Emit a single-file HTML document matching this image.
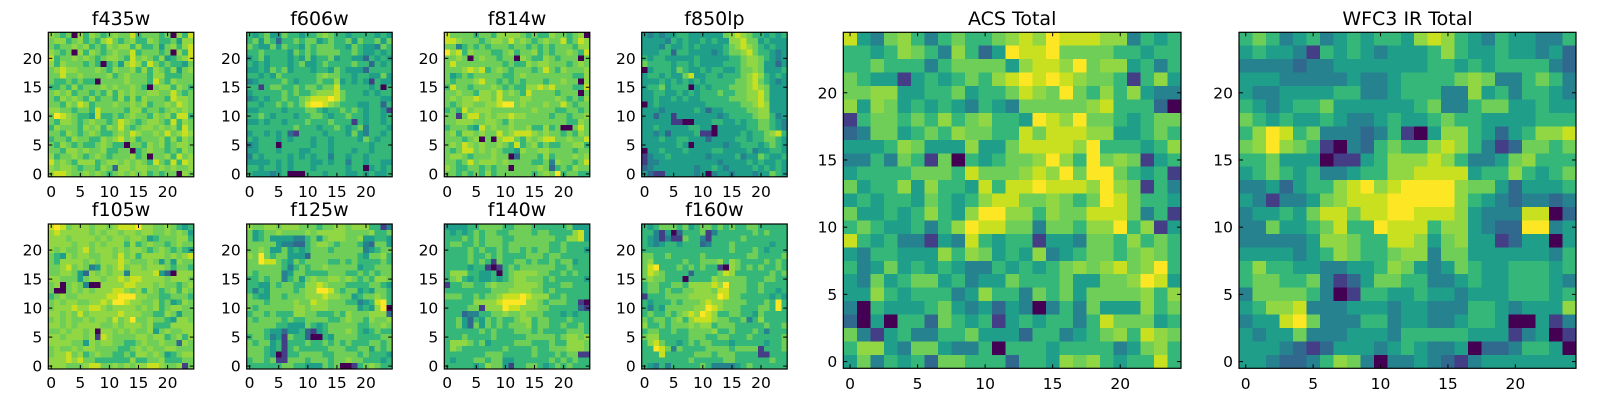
<!DOCTYPE html>
<html><head><meta charset="utf-8"><style>
html,body{margin:0;padding:0;background:#fff;}
svg{display:block;font-family:"DejaVu Sans","Liberation Sans",sans-serif;}
</style></head>
<body>
<svg id="fig" width="1600" height="400" xmlns="http://www.w3.org/2000/svg"></svg>
<script>
const palette=["#440154","#433e85","#31688e","#26828e","#1f9e89","#35b779","#6ece58","#90d743","#c8e020","#fde725"];
const tickValues=[0,5,10,15,20];
const panelTitles=["f435w","f606w","f814w","f850lp","f105w","f125w","f140w","f160w","ACS Total","WFC3 IR Total"];
const f435w=["7656075765676685666560758","6775675657865675576556477","6566767565767757556467578","7656075765676685666560758","8566767656776586765745678","7576665650564787586565546","6787766676576675757657467","6686676666756766657755566","6556565506666766658657666","5565756667676676506775765","6767566565757676677668656","6576765756657575766658776","6657687566676676756676876","7766566586666577566567676","6987655485565676657675885","6577656766568765677658576","5766657675768656776767586","6657656765567687667686787","5665766557678675666757576","6576565567655066576756776","6657767667556605676656576","7566765676566675606675867","8676577756776767658658587","7677656657627767766767667","7887667676567676756566076"];
const f606w=["5456446554556765545555454","5646525565664565564655646","6544646554656665546544365","5565555465656666556544545","4564555454645564554425454","5454555456445655556552545","4454656455545546544425555","5545465555556766554554464","3455556545556557454541544","5515665565665668555554505","4555556565567778655545455","3454556556788898655555544","5545565656899876555445525","4455554555665455656545541","5565455545566545565545545","4454554555655565551545545","5555555565554556545635554","4554545215555455546435545","5455545455545545555465455","3455505555545545555554555","4455545554455545554554555","3545555454545535545545555","4444545455544545535545544","5545545455545555545504545","5444345000555455544545445"];
const f814w=["8666656657777656557665670","8876665677686765676685687","6635656566656656565666577","9785766655675667565667658","6676067665660765576566606","6866666666565576776665676","6667878567656665686576667","6456566666556766666666557","6566678665656566656676607","5866566676565577878666558","6676657768676586666566606","6767787768666776666765657","6567766778996766676686566","5658677766666667666556656","6616886767787766665665667","6677766776576666666665576","5666548676676675575600686","6757767668678887676656576","6665670607886576788667668","6768767667658567565566775","6568867676554766776666566","6776566676602666575666767","6656867776766665563766568","7655665656606666762565766","6656565756666665676956655"];
const f850lp=["4343445544444467876554545","4444354544545447786645444","4443544545444456787654544","4445525544443456678655434","5455444445444445567765434","6555545545444455567764424","0455546544545544566764445","4554544684455455567875454","4445454545455555667865434","4556455504545556667876444","4455445454555655667786444","4454454544555556667786444","0454444444455555566787444","4443444445424455556677444","4424414444444345555677534","4444411004445544545566543","4454444455440444445566543","4434244445110444454556785","4445445544424444554556654","4444445404444434455545654","0445444544445544445344554","1344544444434444534465445","1334444444444344445454454","2344444443445434444545454","4211444443403443444344654"];
const f105w=["8986777677678889776676545","7877777676776776776676764","7776777767677677645666775","7777677676777575676656766","7676678677767677656765654","6547677667768675777767678","6577776767778766676464766","6678676347678677677765665","6677642767677377778420777","7766646776778788777767776","6706763007777887776766567","6006767677788767576567576","5676677777889997766556665","6767766778799877667564576","6777877887677776767567766","7767686777778777665576466","6767667677686796676654776","7767677776676777675557777","6676776707767676674676677","7767776718766667767756757","7777664767766556766766276","6766767766665567676677666","6778675676655657767645677","7778786655555575566755566","7776667886676767788766716"];
const f125w=["7667767776665667767775513","6456676666767777766667556","6456444433564677766744554","6666643322567765666532664","6676446454566656666634566","7696566444266666666546675","6698865465666655656555565","6666665356566766666455666","6566663466555566655656566","5565663564676677676565776","5544656655778766655556654","5354666656779986566454665","6544665666777877664566765","6665666676687766655345895","6566666677677766666454790","5665655577665556576667772","6566665655666655676657667","6666655444654566666556676","6665442445214566676545655","5665341655200546666555566","6566451555655656565556656","6665451565555566655664656","6665401556666556666565554","5665611666566656676655545","5555556655444656001567655"];
const f140w=["4444556666556665555556444","5454565665566665665555784","5556565666556666666557784","5665565666566666665565555","5555656556566565665565554","5555655656555566656655555","5555656516556656556566455","5555455101565666666556555","5777554450567777665565655","5675454454567766656555554","1556655676667777655566555","5555555566677776656555555","6665565667888987775565555","5555577778999977656665510","5555661777988777665555521","5552335566766766655545455","5564254656556775665556555","5564264656566675665565565","5555556565556665655556665","5556555565555566666567767","5777656455556665556557776","5765555555655556556667776","5555555666555556555656611","5455566566445555556565655","5555545766415566545656555"];
const f160w=["5456665645665656556655555","5531402555613555555656555","5431311655315555565555555","5434554555235556555555455","5555555555555556555654555","6655655555655555556655556","6755555655666757655556565","6895556565655107656565565","6876555525555687555555656","6766555055557666665556655","5665566577778796665565555","5665655667776886665565545","1555666677777986655555454","5455565666787766665556595","5354666667798766655566595","5655656787987556655465555","6566567578887665563575555","7556566676775666555556556","5665565566667556555653555","6775555566655665556555556","5786554565665554555554556","5598636555566665666615556","5558555556665666555511555","5555555565555566555555655","5435355555653333456555555"];
const acsTotal=["8436753565567879888773545","5545765375249889666655455","5565553566664788796774535","6544145456578989876651574","6677445564556876965757433","7476454543543666667855520","1566565756755498796654566","2366456576655868887744565","4445764447446888879555457","3353651605456679759676145","4555566658666787969965451","6455747554858898887976153","4545546545788667656986554","6445457547997757668886351","5654453579886636657795714","8545331438545514436657565","4355444757645473456656765","5346454543354545676786795","4364566453446555644667984","4475455534755365646666757","3054445643424303536444756","2040552654514545535866645","6314533556444255345675876","5774366433505554555534675","4635452665552554767545585"];
const wfc3Total=["5653453454554787543544335","4544315454344457544544342","3333233444444455454555532","4443333343345555676335653","4334444553345553374535543","5434556444444563356644544","6545445433454456554444555","5798563332351047754245778","6797651032565578753126656","5564440114577787533467555","4565453345577888845575456","3342455789789999766424445","4313346788899999754323323","3445468868899888743338802","3364456855988857743229934","3333347765588746744124404","4444345765567736644444435","5755443344576434654455545","5665563124665533454455543","3666653015544544344455545","4577833344434433355434447","3448963335534433455400413","4344633344435555544413401","4443212444345433402235540","4432235763033432134444444"];
const panelData=[f435w,f606w,f814w,f850lp,f105w,f125w,f140w,f160w,acsTotal,wfc3Total];
const NS="http://www.w3.org/2000/svg";
const svg=document.getElementById('fig');
function el(tag,attrs,parent){const e=document.createElementNS(NS,tag);for(const k in attrs)e.setAttribute(k,attrs[k]);(parent||svg).appendChild(e);return e;}
const layout=[
 {x:48.3,y:32.3,w:145.5,h:144.5,tb:25,xb:197,fs:19,ts:15.5},
 {x:246.7,y:32.3,w:145.5,h:144.5,tb:25,xb:197,fs:19,ts:15.5},
 {x:444.3,y:32.3,w:145.5,h:144.5,tb:25,xb:197,fs:19,ts:15.5},
 {x:641.7,y:32.3,w:145.5,h:144.5,tb:25,xb:197,fs:19,ts:15.5},
 {x:48.3,y:224,w:145.5,h:145,tb:216,xb:388,fs:19,ts:15.5},
 {x:246.7,y:224,w:145.5,h:145,tb:216,xb:388,fs:19,ts:15.5},
 {x:444.3,y:224,w:145.5,h:145,tb:216,xb:388,fs:19,ts:15.5},
 {x:641.7,y:224,w:145.5,h:145,tb:216,xb:388,fs:19,ts:15.5},
 {x:843.3,y:32.3,w:337.7,h:336,tb:25,xb:389,fs:19,ts:15.5},
 {x:1239,y:32.3,w:337,h:336,tb:25,xb:389,fs:19,ts:15.5}
];
panelData.forEach((rows,p)=>{
  const L=layout[p];
  const n=rows.length;
  const sx=v=>L.x+(v+0.5)/n*L.w;
  const sy=v=>L.y+L.h-(v+0.5)/n*L.h;
  const g=el('g',{});
  
  
  const cw=L.w/n, ch=L.h/n;
  rows.forEach((row,ri)=>{
    const yi=n-1-ri;
    for(let c=0;c<row.length;c++){
      const v=+row[c];
      const r=el('rect',{x:(sx(c)-cw/2).toFixed(2),y:(sy(yi)-ch/2).toFixed(2),width:(cw+0.4).toFixed(2),height:(ch+0.4).toFixed(2),fill:palette[v],'shape-rendering':'crispEdges'},g);
      
      
    }
  });
  const fr=el('rect',{x:L.x,y:L.y,width:L.w,height:L.h,fill:'none',stroke:'#000','stroke-width':1.2},g);
  
  
  tickValues.forEach(t=>{
    const tx=sx(t), ty=sy(t);
    el('line',{x1:tx,y1:L.y+L.h,x2:tx,y2:L.y+L.h-4,stroke:'#000','stroke-width':1},g);
    el('line',{x1:tx,y1:L.y,x2:tx,y2:L.y+4,stroke:'#000','stroke-width':1},g);
    el('line',{x1:L.x,y1:ty,x2:L.x+4,y2:ty,stroke:'#000','stroke-width':1},g);
    el('line',{x1:L.x+L.w,y1:ty,x2:L.x+L.w-4,y2:ty,stroke:'#000','stroke-width':1},g);
    const xl=el('text',{x:tx,y:L.xb,'font-size':L.ts,'text-anchor':'middle',fill:'#000'},g);
    xl.textContent=t;
    
    
    const yl=el('text',{x:L.x-6,y:ty+5.5,'font-size':L.ts,'text-anchor':'end',fill:'#000'},g);
    yl.textContent=t;
    
    
  });
  const tt=el('text',{x:L.x+L.w/2,y:L.tb,'font-size':L.fs,'text-anchor':'middle',fill:'#000'},g);
  tt.textContent=panelTitles[p];
  
  
});
</script>
</body></html>
